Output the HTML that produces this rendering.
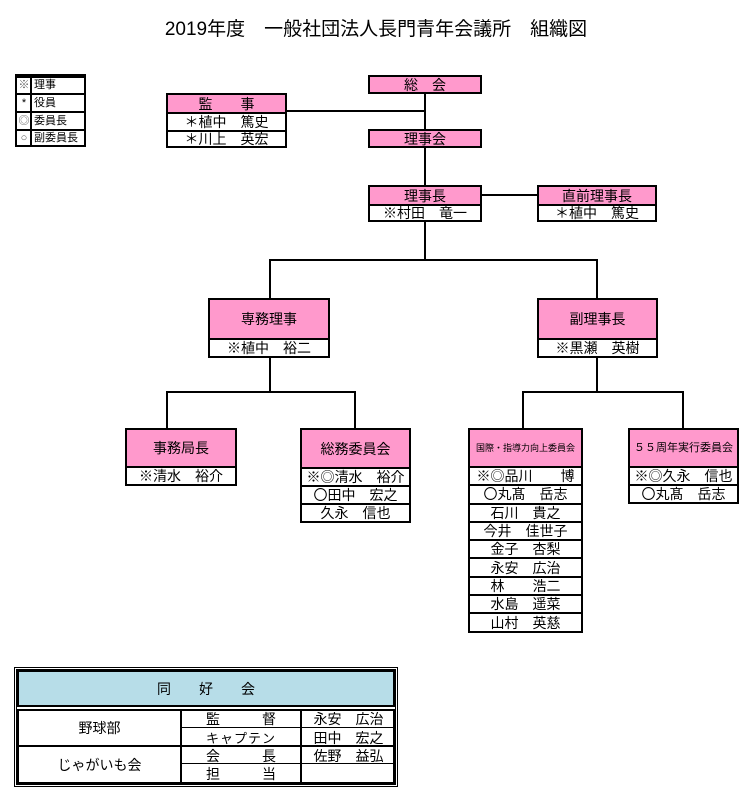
<!DOCTYPE html>
<html><head><meta charset="utf-8"><style>
body{margin:0;width:752px;height:800px;background:#fff;position:relative;font-family:"Liberation Sans","Noto Sans CJK JP",sans-serif;overflow:hidden}
.a{position:absolute;box-sizing:border-box}
.b{position:absolute;box-sizing:border-box;border:2px solid #000;background:#fff}
.r{box-sizing:border-box;border-top:2px solid #000;display:flex;align-items:center;justify-content:center;font-size:14px;white-space:pre;line-height:1;overflow:hidden}
.r:first-child{border-top:none}
.h{background:#ff99cc}
.l{position:absolute;background:#000}
</style></head><body>
<div class="a" style="left:0;width:752px;top:14px;text-align:center;font-size:19px">2019年度　一般社団法人長門青年会議所　組織図</div>

<div class="b" style="left:15px;top:74px;width:71px;height:73px;font-size:11px">
<div class="a" style="left:13px;top:0;width:2px;height:69px;background:#000"></div>
<div class="r" style="height:17px;justify-content:flex-start;font-size:11px"><span style="width:14px;text-align:center;color:#555">※</span><span style="padding-left:3px">理事</span></div>
<div class="r" style="height:18px;justify-content:flex-start;font-size:11px"><span style="width:14px;text-align:center">*</span><span style="padding-left:3px">役員</span></div>
<div class="r" style="height:18px;justify-content:flex-start;font-size:11px"><span style="width:14px;text-align:center;color:#555">◎</span><span style="padding-left:3px">委員長</span></div>
<div class="r" style="height:17px;justify-content:flex-start;font-size:11px"><span style="width:14px;text-align:center;color:#555">○</span><span style="padding-left:3px">副委員長</span></div>
</div>

<!-- lines -->
<div class="l" style="left:424px;top:92px;width:2px;height:94px"></div>
<div class="l" style="left:286px;top:110px;width:139px;height:2px"></div>
<div class="l" style="left:482px;top:194px;width:56px;height:2px"></div>
<div class="l" style="left:424px;top:220px;width:2px;height:40px"></div>
<div class="l" style="left:269px;top:259px;width:329px;height:2px"></div>
<div class="l" style="left:269px;top:259px;width:2px;height:40px"></div>
<div class="l" style="left:596px;top:259px;width:2px;height:40px"></div>
<div class="l" style="left:269px;top:356px;width:2px;height:36px"></div>
<div class="l" style="left:166px;top:391px;width:190px;height:2px"></div>
<div class="l" style="left:166px;top:391px;width:2px;height:38px"></div>
<div class="l" style="left:354px;top:391px;width:2px;height:38px"></div>
<div class="l" style="left:596px;top:356px;width:2px;height:36px"></div>
<div class="l" style="left:522px;top:391px;width:162px;height:2px"></div>
<div class="l" style="left:522px;top:391px;width:2px;height:38px"></div>
<div class="l" style="left:682px;top:391px;width:2px;height:38px"></div>

<div class="b" style="left:368px;top:75px;width:114px;height:19px"><div class="r h" style="height:15px">総　会</div></div>
<div class="b" style="left:368px;top:129px;width:114px;height:19px"><div class="r h" style="height:15px">理事会</div></div>

<div class="b" style="left:166px;top:93px;width:121px;height:55px">
<div class="r h" style="height:17px">監　　事</div><div class="r" style="height:18px">＊植中　篤史</div><div class="r" style="height:16px">＊川上　英宏</div></div>

<div class="b" style="left:368px;top:185px;width:114px;height:37px">
<div class="r h" style="height:17px">理事長</div><div class="r" style="height:16px">※村田　竜一</div></div>
<div class="b" style="left:537px;top:185px;width:120px;height:37px">
<div class="r h" style="height:17px">直前理事長</div><div class="r" style="height:16px">＊植中　篤史</div></div>

<div class="b" style="left:208px;top:298px;width:122px;height:60px">
<div class="r h" style="height:38px">専務理事</div><div class="r" style="height:18px">※植中　裕二</div></div>
<div class="b" style="left:537px;top:298px;width:121px;height:60px">
<div class="r h" style="height:38px">副理事長</div><div class="r" style="height:18px">※黒瀬　英樹</div></div>

<div class="b" style="left:125px;top:428px;width:112px;height:58px">
<div class="r h" style="height:36px">事務局長</div><div class="r" style="height:18px">※清水　裕介</div></div>

<div class="b" style="left:300px;top:428px;width:111px;height:95px">
<div class="r h" style="height:37px">総務委員会</div><div class="r" style="height:18px">※◎清水　裕介</div><div class="r" style="height:18px">〇田中　宏之</div><div class="r" style="height:18px">久永　信也</div></div>

<div class="b" style="left:468px;top:428px;width:115px;height:205px">
<div class="r h" style="height:36px;font-size:9px">国際・指導力向上委員会</div>
<div class="r" style="height:18.3px">※◎品川　　博</div>
<div class="r" style="height:18.3px">〇丸髙　岳志</div>
<div class="r" style="height:18.3px">石川　貴之</div>
<div class="r" style="height:18.3px">今井　佳世子</div>
<div class="r" style="height:18.3px">金子　杏梨</div>
<div class="r" style="height:18.3px">永安　広治</div>
<div class="r" style="height:18.3px">林　　浩二</div>
<div class="r" style="height:18.3px">水島　遥菜</div>
<div class="r" style="height:18.3px">山村　英慈</div>
</div>

<div class="b" style="left:628px;top:428px;width:111px;height:76px">
<div class="r h" style="height:36px;font-size:11px">５５周年実行委員会</div><div class="r" style="height:18px">※◎久永　信也</div><div class="r" style="height:18px">〇丸髙　岳志</div></div>

<!-- bottom table -->
<div class="a" style="left:14px;top:667px;width:384px;height:120px;border:3px double #000"></div>
<div class="a" style="left:17px;top:670px;width:378px;height:37px;background:#b7dde8;border:2px solid #000;display:flex;align-items:center;justify-content:center;font-size:14px;white-space:pre">同　　好　　会</div>
<div class="a" style="left:17px;top:709px;width:378px;height:75px;border:2px solid #000"></div>
<div class="l" style="left:180px;top:709px;width:2px;height:75px"></div>
<div class="l" style="left:300px;top:709px;width:2px;height:75px"></div>
<div class="l" style="left:17px;top:745px;width:378px;height:2px"></div>
<div class="l" style="left:180px;top:727px;width:215px;height:1px"></div>
<div class="l" style="left:180px;top:763px;width:215px;height:1px"></div>
<div class="a" style="left:19px;top:711px;width:161px;height:34px;display:flex;align-items:center;justify-content:center;font-size:14px">野球部</div>
<div class="a" style="left:19px;top:747px;width:161px;height:35px;display:flex;align-items:center;justify-content:center;font-size:14px">じゃがいも会</div>
<div class="a" style="left:182px;top:709px;width:118px;height:18px;font-size:14px;text-align:center;white-space:pre">監　　　督</div>
<div class="a" style="left:182px;top:728px;width:118px;height:18px;font-size:13px;text-align:center;letter-spacing:1px">キャプテン</div>
<div class="a" style="left:182px;top:746px;width:118px;height:18px;font-size:14px;text-align:center;white-space:pre">会　　　長</div>
<div class="a" style="left:182px;top:764px;width:118px;height:18px;font-size:14px;text-align:center;white-space:pre">担　　　当</div>
<div class="a" style="left:302px;top:709px;width:93px;height:18px;font-size:14px;text-align:center;white-space:pre">永安　広治</div>
<div class="a" style="left:302px;top:728px;width:93px;height:18px;font-size:14px;text-align:center;white-space:pre">田中　宏之</div>
<div class="a" style="left:302px;top:746px;width:93px;height:18px;font-size:14px;text-align:center;white-space:pre">佐野　益弘</div>
</body></html>
